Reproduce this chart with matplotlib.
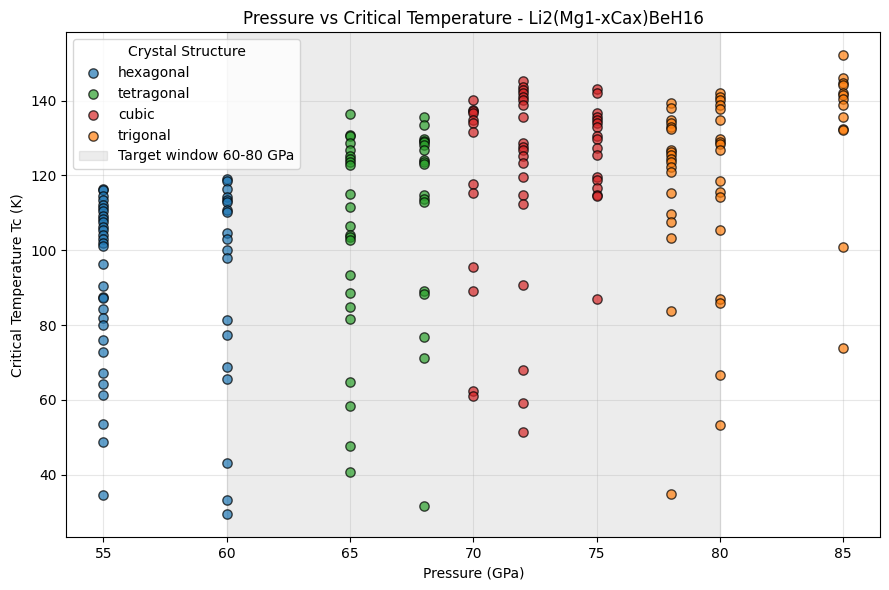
import matplotlib
matplotlib.use("Agg")
from matplotlib import pyplot as plt

# Tc (K) read per pressure column (GPa), one list per crystal structure
hex_55 = [116.4, 116.0, 114.5, 113.5, 112.2, 111.4, 110.5, 109.2, 108.3, 107.5,
          106.2, 105.3, 104.0, 103.1, 101.8, 101.2, 96.2, 90.4, 87.6, 87.1,
          84.4, 82.0, 80.0, 75.9, 72.8, 67.2, 64.2, 61.2, 53.6, 48.7, 34.6]
hex_60 = [119.0, 118.4, 116.4, 114.2, 113.5, 113.0, 110.7, 110.3, 104.6, 102.9,
          100.0, 98.0, 81.3, 77.3, 68.9, 65.7, 43.1, 33.3, 29.5]

tet_65 = [136.4, 130.8, 130.5, 128.6, 126.7, 125.3, 124.4, 123.6, 122.9, 115.1,
          111.6, 106.6, 104.0, 103.4, 102.7, 93.3, 88.7, 84.7, 81.5, 64.7,
          58.3, 47.6, 40.7]
tet_68 = [135.6, 133.5, 129.8, 129.3, 128.9, 128.0, 126.7, 124.0, 123.6, 123.1,
          114.7, 113.8, 112.9, 89.1, 88.4, 76.7, 71.1, 31.7]

cub_70 = [140.2, 137.5, 137.1, 136.6, 134.8, 134.0, 131.6, 117.8, 115.3, 95.6,
          89.2, 62.4, 61.1]
cub_72 = [145.2, 143.7, 142.7, 142.0, 140.9, 140.2, 138.8, 135.6, 128.6, 127.7,
          126.8, 125.3, 123.3, 119.6, 114.8, 112.4, 90.8, 68.1, 59.1, 51.3]
cub_75 = [143.1, 142.0, 136.6, 135.7, 134.8, 134.0, 132.9, 130.4, 129.8, 127.3,
          125.4, 119.5, 118.8, 116.6, 114.8, 114.4, 87.0]

tri_78 = [139.4, 137.9, 134.8, 133.9, 133.0, 132.3, 126.9, 126.3, 125.4, 124.5,
          123.5, 122.3, 121.0, 115.2, 109.7, 107.5, 103.2, 83.8, 34.8]
tri_80 = [141.9, 141.0, 140.1, 138.9, 137.7, 134.8, 129.6, 129.0, 128.4, 126.8,
          118.5, 115.5, 114.3, 105.3, 86.9, 86.0, 66.7, 53.3]
tri_85 = [152.1, 146.0, 144.7, 144.1, 141.9, 141.4, 140.5, 138.8, 135.5, 132.4,
          132.1, 100.8, 73.9]

structures = ["hexagonal", "tetragonal", "cubic", "trigonal"]
colonnes = {
    "hexagonal": [(55, hex_55), (60, hex_60)],
    "tetragonal": [(65, tet_65), (68, tet_68)],
    "cubic": [(70, cub_70), (72, cub_72), (75, cub_75)],
    "trigonal": [(78, tri_78), (80, tri_80), (85, tri_85)],
}
couleurs = ["tab:blue", "tab:green", "tab:red", "tab:orange"]

fig, ax = plt.subplots(figsize=(8.89, 5.9), dpi=100)

handles = []
for nom, c in zip(structures, couleurs):
    p = []
    tc = []
    for pression, valeurs in colonnes[nom]:
        p += [pression] * len(valeurs)
        tc += valeurs
    h = ax.scatter(p, tc, s=45, color=c, alpha=0.7, edgecolors="black",
                   linewidths=1, label=nom, zorder=2)
    handles.append(h)

span = ax.axvspan(60, 80, color="gray", alpha=0.15, zorder=0,
                  label="Target window 60-80 GPa")
handles.append(span)

ax.set_xlabel("Pressure (GPa)")
ax.set_ylabel("Critical Temperature Tc (K)")
ax.set_title("Pressure vs Critical Temperature - Li2(Mg1-xCax)BeH16")
ax.grid(alpha=0.3)
ax.legend(handles=handles, title="Crystal Structure", loc="upper left")

fig.subplots_adjust(left=0.0748, right=0.9902, top=0.9453, bottom=0.0898)
fig.savefig("out.png")
